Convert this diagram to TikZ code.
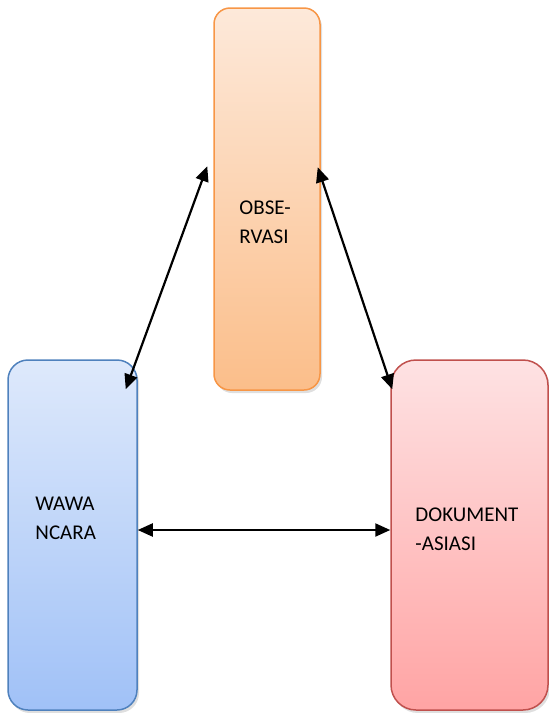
\documentclass[tikz,border=0pt]{standalone}
\usepackage{fontspec}
\setmainfont{Carlito}
\usetikzlibrary{calc,arrows.meta,shadows}

\tikzset{
  box/.style={draw,line width=1.5pt,minimum width=#1,inner sep=0pt,drop shadow={shadow xshift=2pt,shadow yshift=-3pt,opacity=0.25}},
  lbl/.style={anchor=north west,inner sep=0pt,align=left,font=\fontsize{21}{29}\selectfont},
  link/.style={line width=2.2pt,{Triangle[length=15pt,width=13pt]}-{Triangle[length=15pt,width=13pt]}}
}

\begin{document}
\begin{tikzpicture}[x=1pt,y=-1pt]
\useasboundingbox (0,0) rectangle (549,713);

\node[box=106pt,minimum height=382pt,rounded corners=16pt,draw={rgb,255:red,247;green,150;blue,70},top color={rgb,255:red,253;green,233;blue,218},bottom color={rgb,255:red,251;green,190;blue,138}] (obs) at (267,199) {};
\node[box=129pt,minimum height=350pt,rounded corners=20pt,draw={rgb,255:red,79;green,129;blue,189},top color={rgb,255:red,222;green,233;blue,251},bottom color={rgb,255:red,160;green,193;blue,247}] (wawa) at (72.5,535) {};
\node[box=157pt,minimum height=350pt,rounded corners=25pt,draw={rgb,255:red,192;green,80;blue,77},top color={rgb,255:red,254;green,226;blue,227},bottom color={rgb,255:red,255;green,164;blue,164}] (dok) at (469.5,535) {};

\node[lbl] (tobs) at ($(obs.north west)+(26,193)$) {OBSE-\\RVASI};
\node[lbl] (twawa) at ($(wawa.north west)+(28,138)$) {WAWA\\NCARA};
\node[lbl] (tdok) at ($(dok.north west)+(25,148)$) {DOKUMENT\\-ASIASI};

\coordinate (w1) at ($(wawa.north east)+(-12,30)$);
\coordinate (o1) at ($(obs.north west)+(-6,159)$);
\coordinate (o2) at ($(obs.north east)+(-3,160)$);
\coordinate (d1) at ($(dok.north west)+(2,30)$);
\coordinate (w2) at ($(wawa.east)+(0,-5)$);
\coordinate (d2) at ($(dok.west)+(0,-5)$);

\draw[link] (w1) -- (o1);
\draw[link] (o2) -- (d1);
\draw[link] (w2) -- (d2);

\end{tikzpicture}
\end{document}
